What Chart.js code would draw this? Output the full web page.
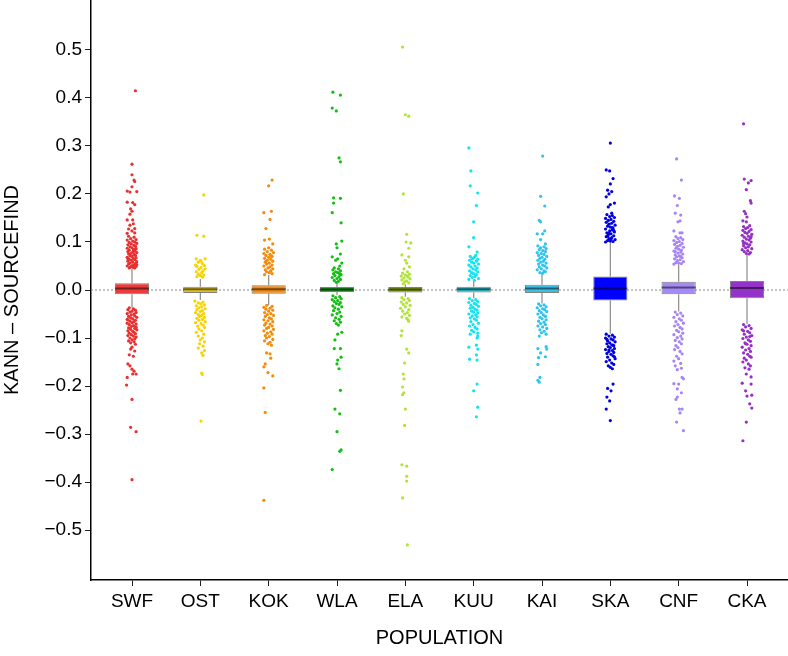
<!DOCTYPE html>
<html>
<head>
<meta charset="utf-8">
<script src="https://cdn.jsdelivr.net/npm/chart.js@4.4.1/dist/chart.umd.min.js"></script>
<style>
  html, body { margin: 0; padding: 0; background: #fff; }
  #wrap { width: 788px; height: 656px; }
</style>
</head>
<body>
<div id="wrap"><canvas id="chart" width="788" height="656"></canvas></div>
<script>
// Populations and tick values
const populations = ['SWF', 'OST', 'KOK', 'WLA', 'ELA', 'KUU', 'KAI', 'SKA', 'CNF', 'CKA'];
const yTickValues = [-0.5, -0.4, -0.3, -0.2, -0.1, 0, 0.1, 0.2, 0.3, 0.4, 0.5];

// Box statistics
const q1 = [-0.009, -0.006, -0.008, -0.004, -0.005, -0.005, -0.006, -0.022, -0.009, -0.017];
const medians = [0.003, 0.0015, 0.0015, 0.001, 0.001, 0.0015, 0.003, 0.003, 0.005, 0.004];
const q3 = [0.014, 0.007, 0.010, 0.006, 0.006, 0.007, 0.011, 0.028, 0.017, 0.019];
const whiskerLo = [-0.037, -0.021, -0.032, -0.011, -0.014, -0.017, -0.028, -0.091, -0.045, -0.071];
const whiskerHi = [0.044, 0.023, 0.031, 0.015, 0.012, 0.019, 0.034, 0.099, 0.053, 0.074];

// Outlier points: [jitter (category units), value]
const swfPoints = [
  [.05,.415],[0,.262],[0,.240],[.03,.229],[.04,.226],[0,.215],[-.07,.206],[-.03,.204],[.07,.205],
  [-.07,.183],[.01,.182],[.04,.178],[-.02,.169],[0,.164],[-.03,.158],[-.07,.146],[.01,.146],[.02,.138],
  [-.03,.135],[-.05,.127],[.04,.128],[0,.123],[-.07,.118],[.04,.119],
  [-.05,.112],[.03,.110],[-.02,.107],[.06,.105],[-.07,.104],[.01,.102],[.04,.100],[-.04,.099],[.07,.097],
  [-.01,.096],[-.06,.094],[.03,.093],[.05,.091],[-.03,.090],[0,.088],[-.07,.087],[.06,.086],[.02,.084],
  [-.04,.083],[.04,.081],[-.06,.080],[.01,.079],[.07,.078],[-.02,.076],[-.05,.075],[.03,.074],[.05,.072],
  [-.03,.071],[0,.070],[-.07,.068],[.06,.067],[.02,.066],[-.04,.064],[.04,.063],[-.01,.062],[-.06,.060],
  [.07,.059],[.01,.058],[-.03,.056],[.05,.055],[-.05,.054],[.03,.052],[0,.051],[-.07,.050],[.06,.049],
  [-.02,.048],[.02,.047],[-.04,.046],[.04,.046],[.07,.053],[-.06,.065],[.05,.085],
  [-.04,-.037],[.02,-.039],[-.06,-.041],[.05,-.042],[0,-.044],[-.03,-.046],[.06,-.047],[-.07,-.049],
  [.03,-.050],[-.01,-.052],[.04,-.054],[-.05,-.055],[.07,-.057],[-.02,-.058],[.01,-.060],[-.06,-.062],
  [.05,-.063],[-.03,-.065],[.03,-.066],[0,-.068],[-.07,-.069],[.06,-.071],[-.04,-.072],[.02,-.074],
  [-.01,-.076],[.05,-.077],[-.05,-.079],[.04,-.080],[-.02,-.082],[.07,-.083],[-.06,-.085],[.01,-.086],
  [.03,-.088],[-.04,-.090],[.05,-.091],[-.01,-.093],[-.06,-.095],[.02,-.096],[.06,-.098],[-.03,-.100],
  [.04,-.102],[0,-.104],[-.05,-.106],[.03,-.108],[-.02,-.110],[.06,-.078],[-.07,-.061],
  [.05,-.113],[0,-.119],[.04,-.127],[-.02,-.123],[-.04,-.135],[.02,-.138],[-.06,-.154],[-.03,-.158],
  [0,-.165],[.03,-.169],[.06,-.175],[.01,-.175],[-.07,-.182],[-.08,-.198],[0,-.228],[-.02,-.286],
  [.06,-.295],[0,-.395]
];
const ostPoints = [
  [.05,.198],[-.05,.114],[.05,.112],
  [-.06,.065],[0,.062],[.07,.065],[-.03,.058],[.03,.055],[-.05,.049],[.01,.047],[.06,.051],[-.02,.043],
  [.04,.040],[-.06,.038],[.02,.036],[-.03,.033],[.05,.031],[0,.030],[-.05,.028],[.03,.027],[.07,.044],
  [-.07,.052],[.01,.060],
  [-.08,-.023],[.04,-.025],[-.03,-.027],[.01,-.029],[.06,-.031],[-.06,-.033],[.02,-.035],[-.02,-.037],
  [.07,-.039],[-.05,-.041],[.03,-.043],[0,-.045],[-.07,-.047],[.05,-.049],[-.03,-.051],[.02,-.053],
  [-.01,-.055],[.06,-.057],[-.05,-.059],[.03,-.061],[-.02,-.063],[.07,-.066],[-.07,-.068],[.01,-.070],
  [.04,-.073],[-.04,-.075],[.06,-.078],[-.02,-.081],[.02,-.085],[-.06,-.088],[.05,-.092],[-.03,-.096],
  [.03,-.100],[0,-.104],[.06,-.108],[-.01,-.112],[.04,-.117],[-.03,-.121],[.06,-.126],[.02,-.131],
  [.04,-.136],[.02,-.173],[.03,-.176],[.01,-.273]
];
const kokPoints = [
  [.05,.229],[0,.217],[-.07,.161],[.04,.164],[.02,.147],[-.04,.128],[-.06,.104],[.01,.106],[.06,.096],[0,.088],
  [-.06,.085],[.04,.083],[-.02,.080],[.07,.078],[-.07,.076],[.02,.074],[-.04,.072],[.05,.070],[0,.068],
  [-.06,.066],[.03,.064],[-.02,.062],[.06,.060],[-.05,.058],[.01,.056],[-.03,.054],[.05,.052],[-.07,.050],
  [.02,.048],[-.01,.046],[.06,.044],[-.05,.042],[.03,.040],[-.03,.038],[.01,.036],[.05,.034],[-.06,.032],
  [.04,.071],[-.04,.059],
  [-.03,-.032],[.05,-.034],[-.07,-.036],[.02,-.038],[-.04,-.040],[.06,-.042],[0,-.044],[-.06,-.047],
  [.03,-.049],[-.02,-.051],[.07,-.053],[-.05,-.055],[.01,-.058],[.04,-.060],[-.07,-.062],[-.01,-.064],
  [.06,-.066],[-.04,-.069],[.02,-.071],[-.06,-.073],[.05,-.075],[0,-.078],[-.03,-.080],[.07,-.082],
  [-.07,-.085],[.03,-.087],[-.02,-.090],[.05,-.092],[-.05,-.095],[.01,-.097],[-.03,-.100],[.06,-.103],
  [-.06,-.106],[.02,-.109],[-.01,-.112],[.04,-.115],
  [-.03,-.131],[.02,-.133],[.03,-.142],[-.05,-.154],[-.07,-.160],[-.01,-.172],[.06,-.179],[-.07,-.204],
  [-.05,-.255],[-.07,-.438]
];
const wlaPoints = [
  [-.06,.412],[.05,.406],[-.07,.379],[-.01,.373],[.03,.275],[.05,.267],[-.05,.192],[.05,.191],[-.05,.181],
  [-.07,.161],[.06,.140],[.07,.102],[-.01,.096],[0,.088],[-.07,.069],[.05,.075],[.01,.065],[-.02,.062],
  [.07,.056],[.04,.050],[-.04,.046],
  [.02,.044],[-.06,.042],[.05,.040],[-.02,.038],[.01,.036],[-.05,.034],[.06,.032],[-.03,.030],[.03,.028],
  [-.07,.026],[0,.024],[.05,.022],[-.04,.020],[.02,.018],[-.01,.016],[.04,.034],
  [-.06,-.012],[.04,-.014],[-.02,-.016],[.06,-.018],[-.07,-.020],[.01,-.022],[-.04,-.024],[.05,-.026],
  [-.01,-.028],[.03,-.030],[-.06,-.033],[.07,-.035],[-.03,-.037],[.02,-.040],[-.05,-.043],[.04,-.046],
  [0,-.049],[-.07,-.052],[.06,-.055],[-.02,-.058],[.03,-.061],[-.04,-.064],[.05,-.067],[-.01,-.070],[.02,-.073],
  [.07,-.088],[.01,-.092],[-.03,-.104],[-.04,-.122],[.05,-.122],[.06,-.140],[.01,-.146],[0,-.154],
  [.03,-.164],[.05,-.209],[-.03,-.248],[.04,-.258],[0,-.295],[.06,-.333],[.04,-.336],[-.07,-.374]
];
const elaPoints = [
  [-.04,.506],[0,.365],[.05,.362],[-.03,.200],[.02,.116],[.01,.100],[.08,.098],[.05,.087],[-.05,.073],
  [.05,.069],[0,.062],[.02,.056],[.06,.048],[-.02,.044],[.03,.038],
  [-.04,.035],[.06,.033],[0,.031],[-.06,.029],[.04,.027],[-.02,.025],[.07,.023],[-.05,.021],[.02,.019],
  [-.01,.017],[.05,.015],[-.03,.013],[.03,.029],
  [-.05,-.016],[.04,-.018],[-.02,-.020],[.06,-.022],[-.06,-.025],[.02,-.027],[-.03,-.030],[.07,-.032],
  [0,-.035],[-.07,-.038],[.05,-.041],[-.04,-.044],[.03,-.047],[-.01,-.050],[.06,-.053],[-.05,-.056],
  [.02,-.059],[.04,-.062],[.05,-.065],
  [-.05,-.085],[-.06,-.095],[.02,-.123],[.05,-.131],[-.01,-.152],[-.03,-.175],[-.02,-.185],[-.04,-.202],
  [-.02,-.214],[-.04,-.218],[0,-.248],[-.01,-.282],[-.05,-.364],[.02,-.367],[.02,-.388],[.02,-.398],
  [-.04,-.433],[.03,-.531]
];
const kuuPoints = [
  [-.07,.296],[-.04,.248],[-.05,.217],[.06,.202],[.04,.176],[0,.142],[0,.109],[-.07,.090],[.05,.079],[-.02,.065],
  [.03,.072],[-.05,.070],[.01,.068],[-.02,.066],[.06,.064],[-.06,.062],[.04,.060],[-.03,.058],[0,.056],
  [.07,.054],[-.07,.052],[.02,.050],[-.04,.048],[.05,.046],[-.01,.044],[.03,.042],[-.06,.040],[.06,.038],
  [-.03,.036],[0,.034],[.04,.032],[-.05,.030],[.02,.028],[-.02,.026],[.07,.024],[-.07,.022],[.01,.020],
  [-.06,-.018],[.03,-.020],[-.02,-.022],[.06,-.024],[-.07,-.026],[.01,-.028],[.04,-.030],[-.04,-.032],
  [.07,-.034],[-.01,-.036],[-.05,-.038],[.02,-.040],[.05,-.042],[-.03,-.044],[0,-.046],[.06,-.048],
  [-.07,-.050],[.03,-.052],[-.02,-.054],[.05,-.056],[-.05,-.058],[.01,-.060],[.04,-.063],[-.04,-.066],
  [.07,-.069],[-.01,-.072],[-.06,-.075],[.02,-.078],[.05,-.081],[-.03,-.084],[0,-.087],[.06,-.090],[-.05,-.092],
  [.06,-.096],[.05,-.100],[-.07,-.119],[.04,-.115],[.06,-.123],[.04,-.135],[.05,-.146],[-.06,-.144],
  [0,-.210],[.05,-.196],[.06,-.244],[.04,-.264]
];
const kaiPoints = [
  [.01,.279],[-.02,.195],[.04,.175],[-.04,.145],[-.02,.142],[.04,.123],[.01,.117],[-.07,.117],[-.02,.105],[.05,.096],
  [-.06,.092],[.03,.090],[-.02,.088],[.06,.086],[-.04,.084],[.01,.082],[.05,.080],[-.07,.078],[-.01,.076],
  [.03,.074],[-.05,.072],[.07,.070],[0,.068],[-.03,.066],[.04,.064],[-.06,.062],[.02,.060],[-.02,.058],
  [.06,.056],[-.05,.054],[.01,.052],[.04,.050],[-.04,.048],[.07,.046],[-.01,.044],[-.07,.042],[.03,.040],
  [.05,.038],[-.03,.036],[.01,.035],
  [-.05,-.029],[.03,-.031],[-.02,-.033],[.06,-.035],[-.07,-.037],[.01,-.039],[.04,-.041],[-.04,-.043],
  [.07,-.045],[-.01,-.047],[-.06,-.050],[.02,-.052],[.05,-.055],[-.03,-.057],[0,-.060],[.06,-.062],
  [-.05,-.065],[.03,-.067],[-.02,-.070],[.05,-.072],[-.06,-.075],[.01,-.077],[.07,-.080],[-.03,-.083],
  [.03,-.086],[-.01,-.089],[.06,-.092],
  [-.04,-.096],[.06,-.118],[.07,-.123],[-.06,-.122],[-.02,-.131],[-.05,-.141],[.05,-.139],[-.06,-.155],
  [-.03,-.182],[-.04,-.192],[-.06,-.188]
];
const skaPoints = [
  [0,.306],[-.06,.250],[-.01,.248],[.04,.232],[0,.221],[-.04,.208],[.02,.205],[-.02,.200],[-.06,.194],
  [.06,.181],[0,.178],[-.03,.173],[.02,.160],
  [-.05,.157],[.03,.155],[-.01,.153],[.06,.151],[-.07,.149],[.01,.147],[-.03,.145],[.05,.143],[-.06,.141],
  [.02,.139],[-.02,.137],[.07,.135],[-.04,.133],[0,.131],[.04,.129],[-.07,.127],[.03,.125],[-.01,.123],
  [.06,.121],[-.05,.119],[.01,.117],[-.03,.115],[.05,.113],[-.06,.111],[.02,.109],[-.02,.107],[.07,.105],
  [-.04,.103],[0,.102],[.04,.101],[-.07,.100],[.03,.130],[-.02,.118],[.05,.124],[-.04,.112],[.01,.106],
  [-.06,-.092],[.03,-.094],[-.02,-.096],[.06,-.098],[-.07,-.100],[.01,-.102],[.04,-.104],[-.04,-.106],
  [.07,-.108],[-.01,-.110],[-.05,-.112],[.02,-.114],[.05,-.116],[-.03,-.118],[0,-.120],[.06,-.122],
  [-.07,-.124],[.03,-.126],[-.02,-.128],[.05,-.130],[-.05,-.132],[.01,-.134],[.04,-.137],[-.04,-.140],
  [.07,-.143],[-.01,-.146],[-.06,-.149],[.02,-.152],[.05,-.155],[-.03,-.158],[0,-.161],[.03,-.164],
  [-.05,-.103],[.04,-.115],[-.02,-.125],[.06,-.139],
  [.04,-.196],[-.04,-.205],[.01,-.210],[-.05,-.223],[-.01,-.231],[-.06,-.248],[0,-.272]
];
const cnfPoints = [
  [-.03,.273],[.04,.229],[-.06,.196],[.01,.191],[-.02,.176],[-.05,.160],[.03,.156],[-.01,.142],[.02,.144],
  [-.07,.123],[.02,.119],[.05,.119],
  [-.04,.111],[.03,.109],[-.01,.107],[.06,.105],[-.07,.103],[.01,.101],[-.03,.099],[.05,.097],[-.06,.095],
  [.02,.093],[-.02,.091],[.07,.089],[-.04,.087],[0,.085],[.04,.083],[-.07,.081],[.03,.079],[-.01,.077],
  [.06,.075],[-.05,.073],[.01,.071],[-.03,.069],[.05,.067],[-.06,.065],[.02,.063],[-.02,.061],[.07,.059],
  [-.04,.057],[0,.056],[.04,.055],[-.07,.054],[.03,.070],[-.05,.080],
  [-.05,-.046],[.03,-.048],[-.02,-.051],[.06,-.054],[-.07,-.057],[.01,-.060],[.04,-.063],[-.04,-.066],
  [.07,-.069],[-.01,-.072],[-.06,-.075],[.02,-.078],[.05,-.081],[-.03,-.084],[0,-.087],[.06,-.090],
  [-.07,-.093],[.03,-.096],[-.02,-.099],[.05,-.102],[-.05,-.105],[.01,-.108],[.04,-.112],[-.04,-.116],
  [-.01,-.120],[-.06,-.124],[.02,-.128],[.05,-.133],[-.03,-.138],[0,-.143],[-.07,-.148],[.03,-.153],
  [-.05,-.158],[.04,-.163],[-.02,-.166],
  [.05,-.182],[.07,-.185],[-.07,-.195],[0,-.196],[-.02,-.206],[.04,-.214],[-.02,-.223],[-.04,-.228],
  [.01,-.248],[.05,-.248],[.02,-.256],[-.03,-.275],[.07,-.293]
];
const ckaPoints = [
  [-.05,.346],[-.04,.231],[.06,.228],[.02,.223],[-.01,.209],[.05,.186],[.06,.181],[-.04,.164],[-.02,.159],
  [0,.152],[-.06,.144],[-.01,.142],
  [.04,.134],[-.05,.132],[.01,.130],[-.02,.128],[.06,.126],[-.06,.124],[.03,.122],[-.03,.120],[0,.118],
  [.07,.116],[-.07,.114],[.02,.112],[-.04,.110],[.05,.108],[-.01,.106],[.03,.104],[-.06,.102],[.06,.100],
  [-.03,.098],[0,.096],[.04,.094],[-.05,.092],[.02,.090],[-.02,.088],[.07,.086],[-.07,.084],[.01,.082],
  [-.04,.080],[.05,.078],[-.01,.076],[.03,.075],[-.05,.097],[.06,.111],
  [-.05,-.072],[.03,-.074],[-.02,-.077],[.06,-.080],[-.07,-.083],[.01,-.086],[.04,-.089],[-.04,-.092],
  [.07,-.095],[-.01,-.098],[-.06,-.101],[.02,-.104],[.05,-.107],[-.03,-.110],[0,-.113],[.06,-.116],
  [-.07,-.119],[.03,-.122],[-.02,-.125],[.05,-.128],[-.05,-.131],[.01,-.134],[.04,-.138],[-.04,-.142],
  [-.01,-.146],[-.06,-.150],[.02,-.154],[.05,-.158],[-.03,-.162],[.03,-.165],[-.05,-.085],[.04,-.097],
  [-.02,-.112],[.06,-.140],
  [-.01,-.175],[.06,-.181],[-.07,-.194],[.06,-.196],[-.02,-.210],[0,-.221],[.07,-.219],[.04,-.237],
  [.07,-.246],[-.01,-.275],[-.06,-.314]
];

const pointsByPop = [swfPoints, ostPoints, kokPoints, wlaPoints, elaPoints,
  kuuPoints, kaiPoints, skaPoints, cnfPoints, ckaPoints];

// Värit
const pointColors = ['#e8302f', '#f7d300', '#f58a0b', '#12bf12', '#b2e33a',
  '#14e3f0', '#2ec4ee', '#0000e0', '#a786f4', '#9430c6'];
const boxColors = ['#ec3b3b', '#e2c01c', '#f08a14', '#1a8c1a', '#7d9b12',
  '#2bbcc8', '#3cc0e6', '#0000ff', '#a58af5', '#9433c8'];

const FONT = "'Liberation Sans', Arial, sans-serif";

function formatTick(v) {
  const s = Math.abs(v).toFixed(1);
  return v < -1e-9 ? '\u2212' + s : s;
}

// Poista akselien automaattinen reunatila
function noPadding(s) {
  s.paddingTop = 0;
  s.paddingBottom = 0;
  s.paddingLeft = 0;
  s.paddingRight = 0;
}

// Whisker and median segments, separated by null gaps
const whiskerData = [];
const medianData = [];
populations.forEach((_, i) => {
  whiskerData.push({x: i, y: q3[i]}, {x: i, y: whiskerHi[i]}, {x: i, y: null});
  whiskerData.push({x: i, y: q1[i]}, {x: i, y: whiskerLo[i]}, {x: i, y: null});
  medianData.push({x: i - 0.25, y: medians[i]}, {x: i + 0.25, y: medians[i]}, {x: i, y: null});
});

const pointSets = populations.map((name, i) => ({
  type: 'scatter',
  label: name,
  data: pointsByPop[i].map((p) => ({x: i + p[0], y: p[1]})),
  backgroundColor: pointColors[i],
  borderWidth: 0,
  pointRadius: 1.6,
  order: 0,
}));

const ctx = document.getElementById('chart').getContext('2d');
new Chart(ctx, {
  type: 'scatter',
  data: {
    datasets: [
      {
        type: 'line',
        data: [{x: -0.6, y: 0}, {x: 9.6, y: 0}],
        borderColor: '#8a8a8a',
        borderWidth: 1,
        borderDash: [2, 2],
        pointRadius: 0,
        order: 5,
      },
      {
        type: 'line',
        data: whiskerData,
        borderColor: '#8c8c8c',
        borderWidth: 1.2,
        pointRadius: 0,
        spanGaps: false,
        order: 3,
      },
      {
        type: 'bar',
        data: populations.map((_, i) => ({x: i, y: [q1[i], q3[i]]})),
        backgroundColor: boxColors,
        borderColor: 'rgba(60,60,60,0.65)',
        borderWidth: 1,
        borderSkipped: false,
        barPercentage: 0.5,
        categoryPercentage: 1,
        order: 2,
      },
      {
        type: 'line',
        data: medianData,
        borderColor: 'rgba(0,0,0,0.5)',
        borderWidth: 2,
        pointRadius: 0,
        spanGaps: false,
        order: 1,
      },
      ...pointSets,
    ],
  },
  options: {
    responsive: false,
    animation: false,
    devicePixelRatio: 1,
    layout: {padding: 0, autoPadding: false},
    plugins: {legend: {display: false}, tooltip: {enabled: false}},
    scales: {
      x: {
        type: 'linear',
        min: -0.6,
        max: 9.6,
        offset: false,
        afterBuildTicks: (s) => {
          s.ticks = populations.map((_, i) => ({value: i}));
        },
        afterFit: (s) => {
          s.height = 76;
          noPadding(s);
        },
        ticks: {
          callback: (v) => populations[v],
          autoSkip: false,
          maxRotation: 0,
          color: '#000',
          padding: 4,
          font: {family: FONT, size: 19},
        },
        grid: {offset: false, drawOnChartArea: false, drawTicks: true, tickLength: 6, color: '#222', lineWidth: 1},
        border: {display: true, color: '#000', width: 1.5},
        title: {
          display: true,
          text: 'POPULATION',
          color: '#000',
          font: {family: FONT, size: 20},
          padding: {top: 0, bottom: 6},
        },
      },
      y: {
        type: 'linear',
        min: -0.604,
        max: 0.604,
        afterBuildTicks: (s) => {
          s.ticks = yTickValues.map((v) => ({value: v}));
        },
        afterFit: (s) => {
          s.width = 91;
          noPadding(s);
        },
        ticks: {
          callback: (v) => formatTick(v),
          color: '#000',
          padding: 3,
          font: {family: FONT, size: 19},
        },
        grid: {offset: false, drawOnChartArea: false, drawTicks: true, tickLength: 6, color: '#222', lineWidth: 1},
        border: {display: true, color: '#000', width: 1.5},
        title: {
          display: true,
          text: 'KANN \u2013 SOURCEFIND',
          color: '#000',
          font: {family: FONT, size: 20},
          padding: {top: 0, bottom: 0},
        },
      },
    },
  },
});
</script>
</body>
</html>
